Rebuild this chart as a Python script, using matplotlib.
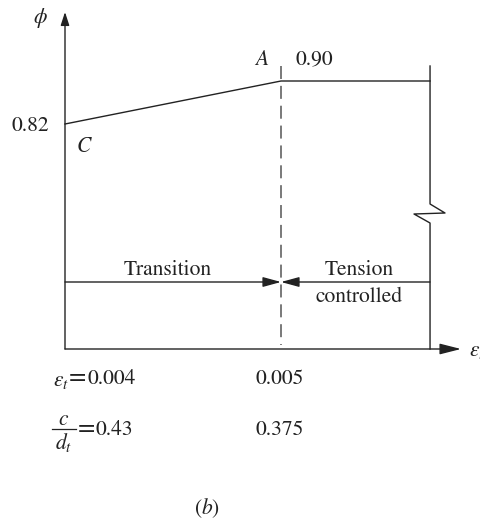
import numpy as np
import matplotlib.pyplot as plt
from matplotlib.patches import FancyArrowPatch

# values
strain = [0.004, 0.005]          # eps_t at C and at A
phi = [0.82, 0.90]               # strength reduction factor at C and A
c_dt = [0.43, 0.375]             # c/d_t at the same points
strain_end = 0.00569             # right edge of the tension-controlled zone

plt.rcParams['font.family'] = ['STIXGeneral', 'DejaVu Serif']
plt.rcParams['mathtext.fontset'] = 'stix'

W, H = 481, 519
fig = plt.figure(figsize=(W / 100, H / 100), dpi=100)
ax = fig.add_axes([0, 0, 1, 1])
ax.axis('off')

# pixel mapping: 0.004 -> 65px, 0.005 -> 281px ; 0.82 -> 124px, 0.90 -> 81px (from top)
sx = (281 - 65) / (strain[1] - strain[0])
sy = (124 - 81) / (phi[1] - phi[0])
ax.set_xlim(strain[0] - 65 / sx, strain[0] + (W - 65) / sx)
ax.set_ylim(phi[0] - (H - 124) / sy, phi[0] + 124 / sy)


def P(px, py):
    # pixel position -> data coords
    return strain[0] + (px - 65) / sx, phi[0] - (py - 124) / sy


ink = '#222222'
lw = 1.0
x0, y0 = P(65, 349)
ytop = P(0, 66)[1]

# axes with arrows
ax.add_patch(FancyArrowPatch((x0, y0), P(65, 12), arrowstyle='-|>,head_length=8,head_width=2.6',
                             color=ink, lw=lw, mutation_scale=1, shrinkA=0, shrinkB=0))
ax.add_patch(FancyArrowPatch((x0, y0), P(461, 349), arrowstyle='-|>,head_length=13,head_width=3.3',
                             color=ink, lw=lw, mutation_scale=1, shrinkA=0, shrinkB=0))

# phi curve
ax.plot([strain[0], strain[1], strain_end], [phi[0], phi[1], phi[1]], color=ink, lw=lw)

# dashed line at A
ax.plot([strain[1], strain[1]], [ytop, P(0, 345)[1]], color='#555555', lw=1.1,
        dashes=(8.5, 4.5))

# right boundary with break mark
zig = [(430, 66), (430, 204), (445, 213), (414, 214), (430, 223), (430, 349)]
zx, zy = zip(*[P(a, b) for a, b in zig])
zx = [strain_end] * 2 + list(zx[2:4]) + [strain_end] * 2
ax.plot(zx, zy, color=ink, lw=lw)

# region arrows
ya = P(0, 282)[1]
ax.add_patch(FancyArrowPatch((strain[0], ya), (strain[1], ya), arrowstyle='-|>,head_length=11,head_width=3',
                             color=ink, lw=lw, mutation_scale=1, shrinkA=0, shrinkB=0))
ax.add_patch(FancyArrowPatch((strain_end, ya), (strain[1], ya), arrowstyle='-|>,head_length=11,head_width=3',
                             color=ink, lw=lw, mutation_scale=1, shrinkA=0, shrinkB=0))

fs = 15.5
kw = dict(color=ink, fontsize=fs, ha='center', va='center')
lkw = dict(color=ink, fontsize=fs, ha='left', va='center')
ekw = dict(color=ink, fontsize=18, ha='center', va='center')
ax.text(*P(40, 18), r'$\phi$', **kw)
ax.text(*P(262, 60), r'$A$', **kw)
ax.text(*P(314, 60), f'{phi[1]:.2f}', **kw)
ax.text(*P(30, 126), f'{phi[0]:.2f}', **kw)
ax.text(*P(84, 147), r'$C$', **kw)
ax.text(*P(168, 270), 'Transition', **kw)
ax.text(*P(359, 270), 'Tension', **kw)
ax.text(*P(359, 297), 'controlled', **kw)
ax.text(*P(469, 351), r'$\varepsilon_t$', **lkw)

# strain row
ax.text(*P(53, 381), r'$\varepsilon_t$', **lkw)
ax.text(*P(77, 378), '=', **ekw)
ax.text(*P(87, 379), f'{strain[0]:.3f}', **lkw)
ax.text(*P(280, 379), f'{strain[1]:.3f}', **kw)

# c/d_t row
ax.text(*P(64, 420), r'$c$', **kw)
ax.plot(*zip(P(52, 429), P(76, 429)), color=ink, lw=0.9)
ax.text(*P(64, 443), r'$d_t$', **kw)
ax.text(*P(86, 429), '=', **ekw)
ax.text(*P(95, 430), f'{c_dt[0]:.2f}', **lkw)
ax.text(*P(280, 430), f'{c_dt[1]:.3f}', **kw)

ax.text(*P(207, 508), r'($b$)', **kw)

fig.savefig('out.png', dpi=100)
